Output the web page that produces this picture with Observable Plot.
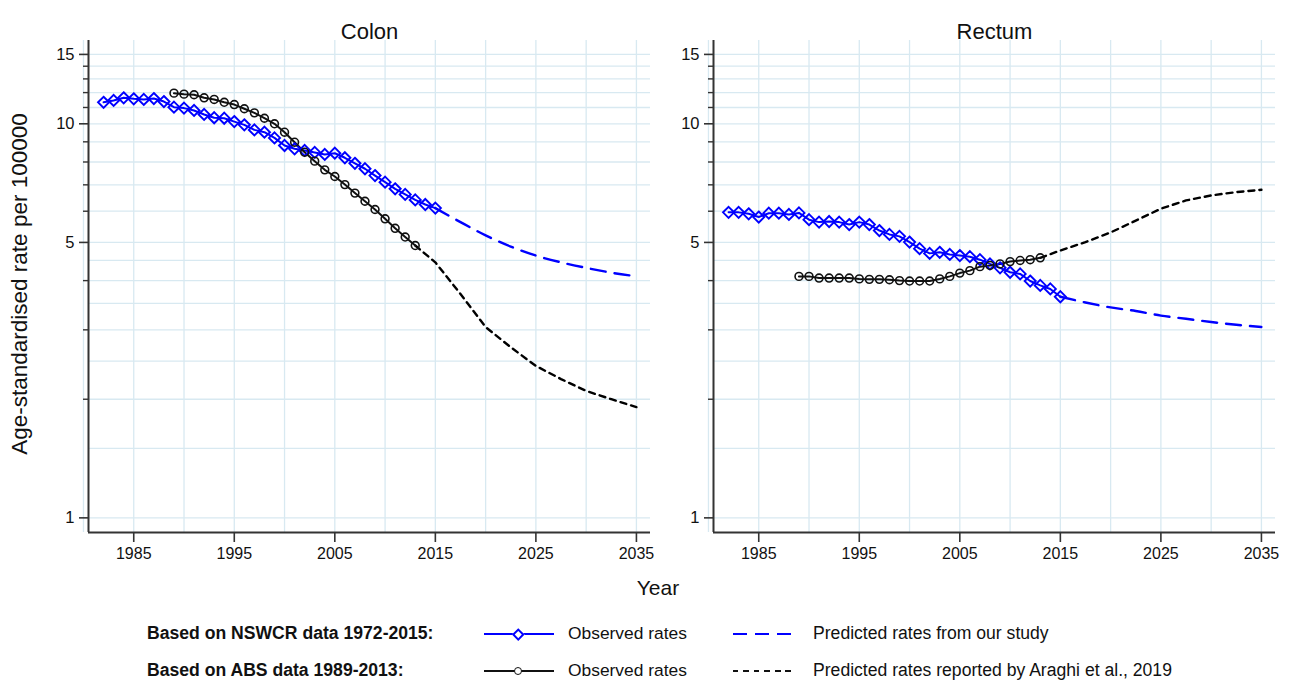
<!DOCTYPE html>
<html><head><meta charset="utf-8">
<script src="https://cdn.jsdelivr.net/npm/d3@7"></script>
<script src="https://cdn.jsdelivr.net/npm/@observablehq/plot@0.6"></script>
<style>
body{margin:0;background:#fff;font-family:"Liberation Sans",Arial,sans-serif;}
#wrap{position:relative;width:1295px;height:681px;overflow:hidden;background:#fff;}
.panel{position:absolute;top:0;}
.t{position:absolute;white-space:nowrap;color:#111;line-height:1;}
.sw{position:absolute;height:0;}
.mk{position:absolute;box-sizing:border-box;background:#fff;}
</style></head><body><div id="wrap"></div><script>
// ---------- data ----------
const panelTitles = ["Colon", "Rectum"];
const obsYearsNSW = [1982,1983,1984,1985,1986,1987,1988,1989,1990,1991,1992,1993,1994,1995,1996,1997,1998,1999,2000,2001,2002,2003,2004,2005,2006,2007,2008,2009,2010,2011,2012,2013,2014,2015];
const obsYearsABS = [1989,1990,1991,1992,1993,1994,1995,1996,1997,1998,1999,2000,2001,2002,2003,2004,2005,2006,2007,2008,2009,2010,2011,2012,2013];
const predYearsNSW = [2015,2017.5,2020,2022.5,2025,2027.5,2030,2032.5,2035];
const predYearsABS = [2013,2015,2017.5,2020,2022.5,2025,2027.5,2030,2032.5,2035];

const colonNSWObs = [11.34,11.46,11.64,11.57,11.53,11.59,11.39,11.02,10.96,10.81,10.56,10.36,10.33,10.13,9.94,9.65,9.52,9.21,8.81,8.64,8.56,8.46,8.36,8.42,8.20,7.94,7.69,7.39,7.11,6.84,6.62,6.41,6.24,6.11];
const colonABSObs = [11.96,11.89,11.85,11.64,11.53,11.34,11.19,10.92,10.66,10.33,10.0,9.52,8.98,8.47,8.04,7.64,7.35,7.01,6.67,6.36,6.06,5.74,5.43,5.16,4.91];
const colonNSWPred = [6.11,5.63,5.21,4.88,4.63,4.45,4.31,4.19,4.10];
const colonABSPred = [4.91,4.45,3.70,3.05,2.71,2.43,2.25,2.10,2.00,1.91];

const rectumNSWObs = [5.96,5.96,5.91,5.80,5.93,5.93,5.89,5.94,5.71,5.63,5.65,5.63,5.55,5.63,5.55,5.36,5.24,5.18,5.01,4.82,4.69,4.72,4.66,4.63,4.60,4.52,4.41,4.31,4.20,4.16,3.99,3.89,3.81,3.64];
const rectumABSObs = [4.10,4.10,4.06,4.06,4.06,4.06,4.04,4.03,4.03,4.02,4.00,3.99,3.99,3.99,4.04,4.10,4.18,4.24,4.34,4.37,4.41,4.47,4.50,4.52,4.57];
const rectumNSWPred = [3.64,3.52,3.42,3.35,3.26,3.20,3.14,3.09,3.05];
const rectumABSPred = [4.57,4.77,5.01,5.30,5.68,6.09,6.39,6.58,6.71,6.80];

const xDomain = [1980.5, 2036.4];
const yDomain = [0.918, 16.27];
const xMajor = [1985,1995,2005,2015,2025,2035];
const gridYears = [1980,1985,1990,1995,2000,2005,2010,2015,2020,2025,2030,2035];
const yMajor = [1,5,10,15];
const yMinor = [2,3,4,6,7,8,9,11,12,13,14];
const gridRates = [1,1.5,2,2.5,3,3.5,4,4.5,5,6,7,8,9,10,11,12,13,14,15];

const legendGroups = ["Based on NSWCR data 1972-2015:", "Based on ABS data 1989-2013:"];
const legendObs = ["Observed rates", "Observed rates"];
const legendPred = ["Predicted rates from our study", "Predicted rates reported by Araghi et al., 2019"];
const axisTitles = {x: "Year", y: "Age-standardised rate per 100000"};

// ---------- styles ----------
const FONT = '"Liberation Sans", Arial, sans-serif';
const BLUE = "#0000ff";
const GRID = "#d8e9f1";
const AXIS = "#333";

function rows(xs, ys) { return xs.map((x, i) => ({year: x, rate: ys[i]})); }

function panel(title, nswObs, absObs, nswPred, absPred, width, marginLeft, marginRight) {
  const nO = rows(obsYearsNSW, nswObs), aO = rows(obsYearsABS, absObs);
  const nP = rows(predYearsNSW, nswPred), aP = rows(predYearsABS, absPred);
  return Plot.plot({
    width, height: 570, marginTop: 40, marginBottom: 38, marginLeft, marginRight,
    style: {fontFamily: FONT, fontSize: "16px", color: "#111", background: "white", overflow: "visible"},
    x: {domain: xDomain},
    y: {type: "log", domain: yDomain},
    marks: [
      Plot.ruleX(gridYears, {stroke: GRID, strokeWidth: 1.3}),
      Plot.ruleY(gridRates, {stroke: GRID, strokeWidth: 1.3}),
      Plot.ruleX([xDomain[0]], {stroke: AXIS, strokeWidth: 2}),
      Plot.ruleY([yDomain[0]], {stroke: AXIS, strokeWidth: 2}),
      Plot.axisX({ticks: xMajor, tickSize: 10, tickPadding: 5, fontSize: 16, tickFormat: d => String(d), label: null, stroke: AXIS, strokeWidth: 1.6, fill: "#111"}),
      Plot.axisY({ticks: yMajor, tickSize: 9, tickPadding: 5, fontSize: 16.5, tickFormat: d => String(d), label: null, stroke: AXIS, strokeWidth: 1.6, fill: "#111"}),
      Plot.axisY({ticks: yMinor, tickSize: 5, tickFormat: () => "", label: null, stroke: AXIS, strokeWidth: 1.4}),
      Plot.line(nP, {x: "year", y: "rate", stroke: BLUE, strokeWidth: 2.4, strokeDasharray: "15,9", curve: "monotone-x"}),
      Plot.line(aP, {x: "year", y: "rate", stroke: "#000", strokeWidth: 2.4, strokeDasharray: "6,5"}),
      Plot.line(nO, {x: "year", y: "rate", stroke: BLUE, strokeWidth: 2}),
      Plot.line(aO, {x: "year", y: "rate", stroke: "#111", strokeWidth: 2}),
      Plot.dot(nO, {x: "year", y: "rate", symbol: "diamond2", r: 5, stroke: BLUE, strokeWidth: 1.9, fill: "none"}),
      Plot.dot(aO, {x: "year", y: "rate", r: 3.9, stroke: "#111", strokeWidth: 1.6, fill: "none"}),
      Plot.text([title], {text: d => d, frameAnchor: "top", dy: -17, fontSize: 22, fill: "#111"})
    ]
  });
}

const wrap = document.getElementById("wrap");
const p1 = panel(panelTitles[0], colonNSWObs, colonABSObs, colonNSWPred, colonABSPred, 655, 88, 5);
p1.classList.add("panel"); p1.style.left = "0px";
const p2 = panel(panelTitles[1], rectumNSWObs, rectumABSObs, rectumNSWPred, rectumABSPred, 640, 58, 20);
p2.classList.add("panel"); p2.style.left = "655px";
wrap.appendChild(p1); wrap.appendChild(p2);

function addText(txt, css) {
  const d = document.createElement("div");
  d.className = "t"; d.textContent = txt;
  Object.assign(d.style, css);
  wrap.appendChild(d); return d;
}
addText(axisTitles.x, {left: "658px", top: "577px", fontSize: "21px", transform: "translateX(-50%)"});
addText(axisTitles.y, {left: "20px", top: "284px", fontSize: "22.5px", transform: "translate(-50%,-50%) rotate(-90deg)"});

// legend
const rowY = [634, 671];
function swatchLine(left, width, y, bg, h) {
  const d = document.createElement("div");
  d.className = "sw";
  Object.assign(d.style, {left: left + "px", top: (y - h / 2) + "px", width: width + "px", height: h + "px", background: bg});
  wrap.appendChild(d);
}
function marker(cx, cy, size, css) {
  const d = document.createElement("div");
  d.className = "mk";
  Object.assign(d.style, {left: (cx - size / 2) + "px", top: (cy - size / 2) + "px", width: size + "px", height: size + "px"}, css);
  wrap.appendChild(d);
}
legendGroups.forEach((g, i) => {
  const y = rowY[i];
  addText(g, {left: "147px", top: (y - 9) + "px", fontSize: "17.6px", fontWeight: "bold"});
  addText(legendObs[i], {left: "568px", top: (y - 9) + "px", fontSize: "17.4px"});
  addText(legendPred[i], {left: "813px", top: (y - 9) + "px", fontSize: "17.6px"});
});
swatchLine(484, 70, rowY[0], BLUE, 2.2);
marker(518, rowY[0], 8.5, {border: "2px solid " + BLUE, transform: "rotate(45deg)"});
swatchLine(484, 70, rowY[1], "#111", 2.2);
marker(518, rowY[1], 8, {border: "1.6px solid #111", borderRadius: "50%"});
swatchLine(733, 58, rowY[0], "repeating-linear-gradient(90deg," + BLUE + " 0 14px,transparent 14px 22px)", 2.4);
swatchLine(733, 58, rowY[1], "repeating-linear-gradient(90deg,#111 0 5.5px,transparent 5.5px 10.5px)", 2.4);
</script></body></html>
